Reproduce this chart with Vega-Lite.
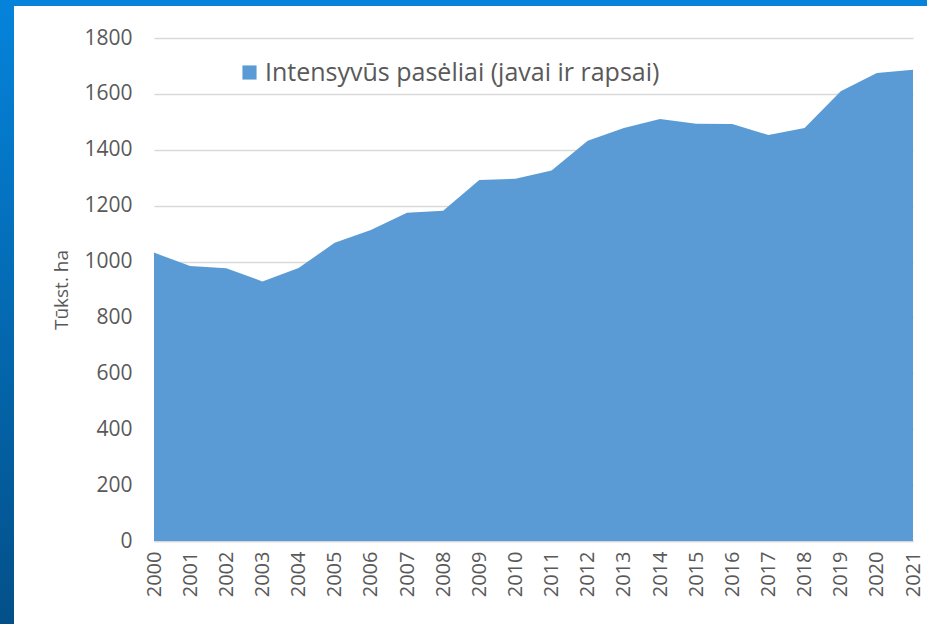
{
  "$schema": "https://vega.github.io/schema/vega-lite/v6.json",
  "background": "white",
  "padding": 0,
  "config": {
    "font": "Open Sans",
    "view": {"stroke": null}
  },
  "spacing": 0,
  "vconcat": [
    {
      "width": 927,
      "height": 6,
      "view": {"fill": "#0583da", "stroke": null},
      "data": {"values": []},
      "mark": "rect",
      "encoding": {}
    },
    {
      "spacing": 38,
      "hconcat": [
        {
          "width": 14,
          "height": 618,
          "view": {
            "stroke": null,
            "fill": {
              "gradient": "linear",
              "x1": 0, "y1": 0, "x2": 0, "y2": 1,
              "stops": [
                {"offset": 0, "color": "#0583da"},
                {"offset": 1, "color": "#035089"}
              ]
            }
          },
          "data": {"values": []},
          "mark": "rect",
          "encoding": {}
        },
        {
          "spacing": 20,
          "vconcat": [
            {
              "width": 1,
              "height": 1,
              "data": {"values": []},
              "mark": "rect",
              "encoding": {}
            },
            {
              "width": 759,
              "height": 503,
              "data": {
                "values": [
                  {"year": "2000", "value": 1032, "series": "Intensyvūs pasėliai (javai ir rapsai)"},
                  {"year": "2001", "value": 984, "series": "Intensyvūs pasėliai (javai ir rapsai)"},
                  {"year": "2002", "value": 976, "series": "Intensyvūs pasėliai (javai ir rapsai)"},
                  {"year": "2003", "value": 929, "series": "Intensyvūs pasėliai (javai ir rapsai)"},
                  {"year": "2004", "value": 977, "series": "Intensyvūs pasėliai (javai ir rapsai)"},
                  {"year": "2005", "value": 1067, "series": "Intensyvūs pasėliai (javai ir rapsai)"},
                  {"year": "2006", "value": 1113, "series": "Intensyvūs pasėliai (javai ir rapsai)"},
                  {"year": "2007", "value": 1175, "series": "Intensyvūs pasėliai (javai ir rapsai)"},
                  {"year": "2008", "value": 1182, "series": "Intensyvūs pasėliai (javai ir rapsai)"},
                  {"year": "2009", "value": 1292, "series": "Intensyvūs pasėliai (javai ir rapsai)"},
                  {"year": "2010", "value": 1296, "series": "Intensyvūs pasėliai (javai ir rapsai)"},
                  {"year": "2011", "value": 1326, "series": "Intensyvūs pasėliai (javai ir rapsai)"},
                  {"year": "2012", "value": 1432, "series": "Intensyvūs pasėliai (javai ir rapsai)"},
                  {"year": "2013", "value": 1478, "series": "Intensyvūs pasėliai (javai ir rapsai)"},
                  {"year": "2014", "value": 1510, "series": "Intensyvūs pasėliai (javai ir rapsai)"},
                  {"year": "2015", "value": 1493, "series": "Intensyvūs pasėliai (javai ir rapsai)"},
                  {"year": "2016", "value": 1492, "series": "Intensyvūs pasėliai (javai ir rapsai)"},
                  {"year": "2017", "value": 1453, "series": "Intensyvūs pasėliai (javai ir rapsai)"},
                  {"year": "2018", "value": 1478, "series": "Intensyvūs pasėliai (javai ir rapsai)"},
                  {"year": "2019", "value": 1609, "series": "Intensyvūs pasėliai (javai ir rapsai)"},
                  {"year": "2020", "value": 1675, "series": "Intensyvūs pasėliai (javai ir rapsai)"},
                  {"year": "2021", "value": 1686, "series": "Intensyvūs pasėliai (javai ir rapsai)"}
                ]
              },
              "mark": {"type": "area", "opacity": 1},
              "encoding": {
                "x": {
                  "field": "year",
                  "type": "ordinal",
                  "scale": {"type": "point", "padding": 0},
                  "axis": {
                    "title": null,
                    "labelAngle": -90,
                    "labelAlign": "right",
                    "labelBaseline": "middle",
                    "labelFontSize": 20,
                    "labelColor": "#595959",
                    "labelPadding": 10,
                    "ticks": false,
                    "domain": true,
                    "domainColor": "#d9d9d9",
                    "domainWidth": 1.5
                  }
                },
                "y": {
                  "field": "value",
                  "type": "quantitative",
                  "scale": {"domain": [0, 1800], "nice": false},
                  "axis": {
                    "title": "Tūkst. ha",
                    "titleFontSize": 19,
                    "titleFontWeight": "normal",
                    "titleColor": "#595959",
                    "titlePadding": 12,
                    "format": "d",
                    "values": [0, 200, 400, 600, 800, 1000, 1200, 1400, 1600, 1800],
                    "labelFontSize": 21,
                    "labelColor": "#595959",
                    "labelPadding": 22,
                    "ticks": false,
                    "domain": false,
                    "grid": true,
                    "gridColor": "#d9d9d9",
                    "gridWidth": 1.5
                  }
                },
                "color": {
                  "field": "series",
                  "type": "nominal",
                  "scale": {"range": ["#5b9bd5"]},
                  "legend": {
                    "title": null,
                    "orient": "none",
                    "legendX": 237,
                    "legendY": 60,
                    "symbolType": "square",
                    "symbolSize": 200,
                    "symbolOpacity": 1,
                    "labelFontSize": 25,
                    "labelColor": "#595959",
                    "labelOffset": 3,
                    "labelLimit": 700
                  }
                }
              }
            }
          ]
        }
      ]
    }
  ]
}
